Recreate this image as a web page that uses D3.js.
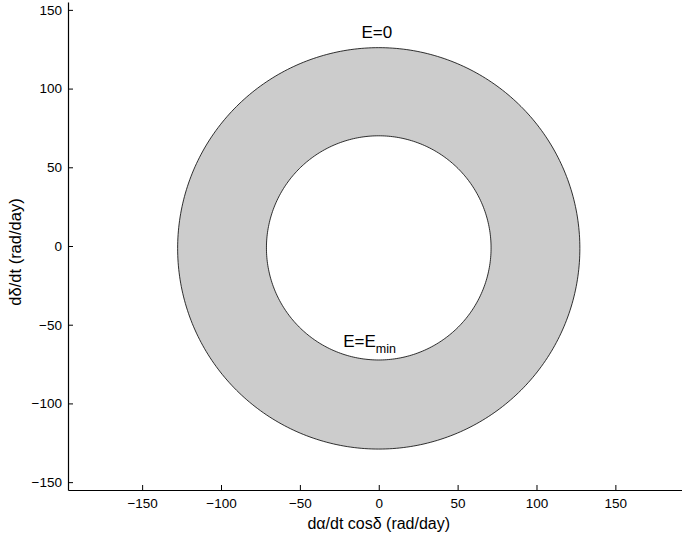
<!DOCTYPE html>
<html><head><meta charset="utf-8">
<script src="https://cdn.jsdelivr.net/npm/d3@7"></script>
<style>body{margin:0;background:#fff}svg{display:block}text{font-family:"Liberation Sans",Arial,sans-serif;fill:#000}</style>
</head><body>
<svg id="c" width="682" height="535"></svg>
<script>
const xTicks = [-150, -100, -50, 0, 50, 100, 150];
const yTicks = [-150, -100, -50, 0, 50, 100, 150];
const xDomain = [-197, 197];
const yDomain = [-155, 155];
// curves: E=0 (outer) and E=Emin (inner)
const curveNames = ["E=0", "E=E_min"];
const curveCenterX = [0, 0];
const curveCenterY = [-1.5, -1.2];
const curveRadius = [127.5, 71.2];

const svg = d3.select("#c");
const x = d3.scaleLinear().domain(xDomain).range([68, 689.5]);
const y = d3.scaleLinear().domain(yDomain).range([490, 2]);

function circlePts(cx, cy, r) {
  const n = 360, pts = [];
  for (let i = 0; i <= n; i++) { const a = 2 * Math.PI * i / n; pts.push([cx + r * Math.cos(a), cy + r * Math.sin(a)]); }
  return pts;
}
const line = d3.line().x(d => x(d[0])).y(d => y(d[1]));
const outer = circlePts(curveCenterX[0], curveCenterY[0], curveRadius[0]);
const inner = circlePts(curveCenterX[1], curveCenterY[1], curveRadius[1]).reverse();
svg.append("path").attr("d", line(outer) + line(inner)).attr("fill", "#cccccc").attr("fill-rule", "evenodd").attr("stroke", "none");
svg.append("path").attr("d", line(outer)).attr("fill", "none").attr("stroke", "#000").attr("stroke-width", 0.8);
svg.append("path").attr("d", line(circlePts(curveCenterX[1], curveCenterY[1], curveRadius[1]))).attr("fill", "none").attr("stroke", "#000").attr("stroke-width", 0.8);

// axes
const gx = svg.append("g").attr("transform", "translate(0,490)")
  .call(d3.axisBottom(x).tickValues(xTicks).tickSize(-5).tickSizeOuter(0).tickPadding(8).tickFormat(d => d < 0 ? "\u2212" + Math.abs(d) : d));
const gy = svg.append("g").attr("transform", "translate(68,0)")
  .call(d3.axisLeft(y).tickValues(yTicks).tickSize(-5).tickSizeOuter(0).tickPadding(6).tickFormat(d => d < 0 ? "\u2212" + Math.abs(d) : d));
[gx, gy].forEach(g => {
  g.select(".domain").attr("stroke", "#000").attr("stroke-width", 1.2);
  g.selectAll(".tick line").attr("stroke", "#000");
  g.selectAll(".tick text").attr("font-size", 13.5).attr("font-family", "Liberation Sans, Arial, sans-serif").attr("fill", "#000");
});

// curve labels
svg.append("text").attr("x", x(0) - 2).attr("y", y(curveCenterY[0] + curveRadius[0]) - 10).attr("text-anchor", "middle").attr("font-size", 17).text(curveNames[0]);
const t = svg.append("text").attr("x", x(-22.5)).attr("y", y(curveCenterY[1] - curveRadius[1]) - 13).attr("text-anchor", "start").attr("font-size", 17);
t.append("tspan").text("E=E");
t.append("tspan").attr("font-size", 12.5).attr("dy", 6).text("min");

// axis titles
svg.append("text").attr("x", x(0)).attr("y", 529).attr("text-anchor", "middle").attr("font-size", 16).text("d\u03b1/dt cos\u03b4 (rad/day)");
svg.append("text").attr("transform", "translate(21," + (y(0) + 6) + ") rotate(-90)").attr("text-anchor", "middle").attr("font-size", 16.5).text("d\u03b4/dt (rad/day)");
</script>
</body></html>
